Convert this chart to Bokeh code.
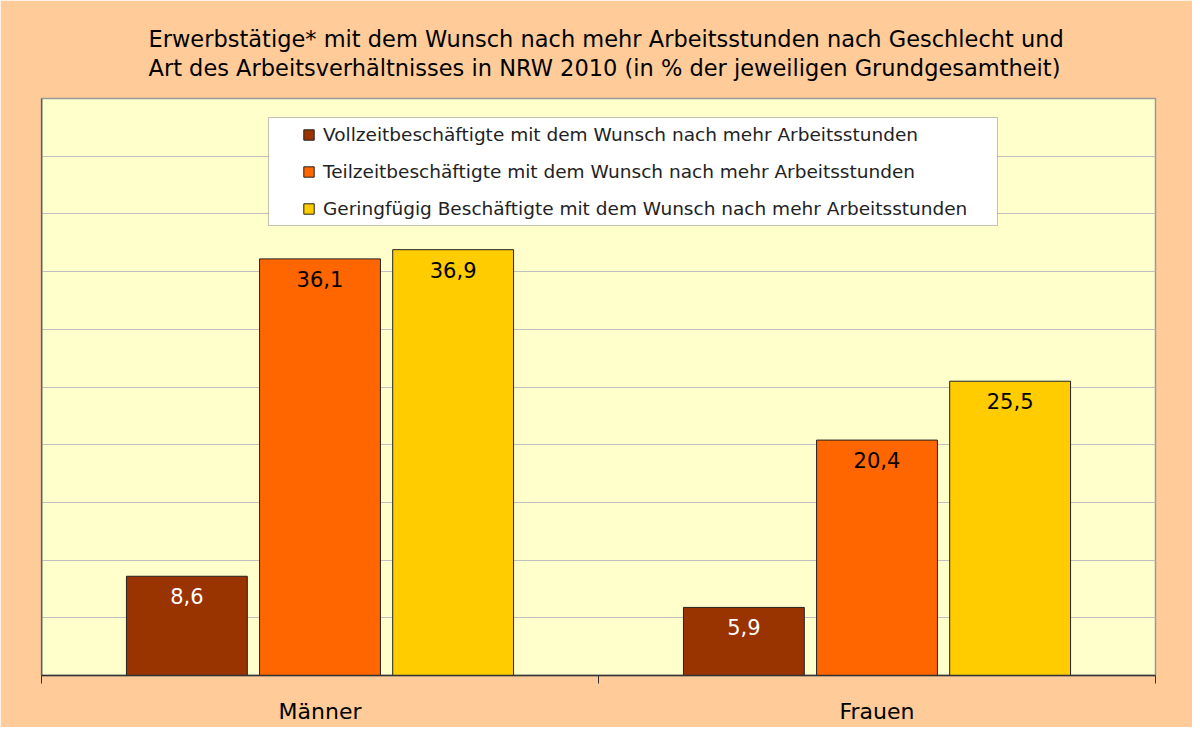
from bokeh.plotting import figure
from bokeh.models import (ColumnDataSource, FixedTicker, Legend, LegendItem,
                          BoxAnnotation, Span, Title, Range1d)
from bokeh.core.properties import value
from bokeh.embed import file_html
from bokeh.resources import INLINE

# ---------------- data ----------------
categories = ["Männer", "Frauen"]
series_names = [
    "Vollzeitbeschäftigte mit dem Wunsch nach mehr Arbeitsstunden",
    "Teilzeitbeschäftigte mit dem Wunsch nach mehr Arbeitsstunden",
    "Geringfügig Beschäftigte mit dem Wunsch nach mehr Arbeitsstunden",
]
vollzeit = [8.6, 5.9]
teilzeit = [36.1, 20.4]
geringfuegig = [36.9, 25.5]
series_values = [vollzeit, teilzeit, geringfuegig]
colors = ["#993300", "#FF6600", "#FFCC00"]
label_colors = ["#FFFFFF", "#000000", "#000000"]
title_lines = [
    "Erwerbstätige* mit dem Wunsch nach mehr Arbeitsstunden nach Geschlecht und",
    "Art des Arbeitsverhältnisses in NRW 2010 (in % der jeweiligen Grundgesamtheit)",
]

FONT = "DejaVu Sans"
offsets = [-0.239, 0.0, 0.239]
bar_width = 0.217

p = figure(width=1192, height=727, output_backend="svg", toolbar_location=None,
           x_range=Range1d(0, 2), y_range=Range1d(0, 50),
           min_border_left=41, min_border_right=37, min_border_top=98,
           min_border_bottom=52)
p.border_fill_color = "#FFCC99"
p.background_fill_color = "#FFFFCC"
p.outline_line_color = "#999999"
p.outline_line_width = 1.5

# two-line title
p.add_layout(Title(text="\n".join(title_lines), align="left", offset=107,
                   text_font=FONT, text_font_size="22.5px",
                   text_font_style="normal", text_line_height=1.13,
                   text_color="#000000", standoff=35), "above")

# grid
p.xgrid.visible = False
p.ygrid.ticker = FixedTicker(ticks=list(range(0, 51, 5)))
p.ygrid.grid_line_color = "#C0C0C0"
p.ygrid.grid_line_width = 1
p.yaxis.visible = False

# x axis
cat_pos = [i + 0.5 for i in range(len(categories))]
p.xaxis.ticker = FixedTicker(ticks=cat_pos, minor_ticks=list(range(len(categories) + 1)))
p.xaxis.major_label_overrides = {cp: c for cp, c in zip(cat_pos, categories)}
p.xaxis.major_tick_line_color = None
p.xaxis.major_tick_out = 0
p.xaxis.minor_tick_out = 8
p.xaxis.minor_tick_in = 0
p.xaxis.minor_tick_line_color = "#333333"
p.xaxis.axis_line_color = "#333333"
p.xaxis.axis_line_width = 1.5
p.xaxis.major_label_standoff = 15
p.xaxis.major_label_text_font = FONT
p.xaxis.major_label_text_font_size = "22px"
p.xaxis.major_label_text_color = "#000000"

p.add_layout(Span(location=0, dimension="height", line_color="#222222", line_width=1.5))

items = []
for k, (name, vals) in enumerate(zip(series_names, series_values)):
    xs = [cp + offsets[k] for cp in cat_pos]
    src = ColumnDataSource(dict(x=xs, top=vals,
                                lbl=[f"{v:.1f}".replace(".", ",") for v in vals]))
    r = p.vbar(x="x", top="top", bottom=0, width=bar_width, source=src,
               fill_color=colors[k], line_color="#222222", line_width=1)
    p.text(x="x", y="top", text="lbl", source=src, text_align="center",
           text_baseline="top", y_offset=12, text_color=label_colors[k],
           text_font=value(FONT), text_font_size="21px")
    items.append(LegendItem(label=name, renderers=[r]))

# legend frame
p.add_layout(BoxAnnotation(left=0.4075, right=1.7163, bottom=39.0, top=48.35,
                           fill_color="#FFFFFF", fill_alpha=1.0,
                           line_color="#333333", line_width=1))

legend = Legend(items=items, location=(261, 452), padding=0, margin=0,
                spacing=7, label_height=30, glyph_height=13, glyph_width=13,
                label_standoff=8, background_fill_alpha=0, border_line_alpha=0,
                label_text_font=FONT, label_text_font_size="18.5px",
                label_text_color="#222222")
p.add_layout(legend, "center")

open("out.html", "w").write(file_html(p, INLINE))
